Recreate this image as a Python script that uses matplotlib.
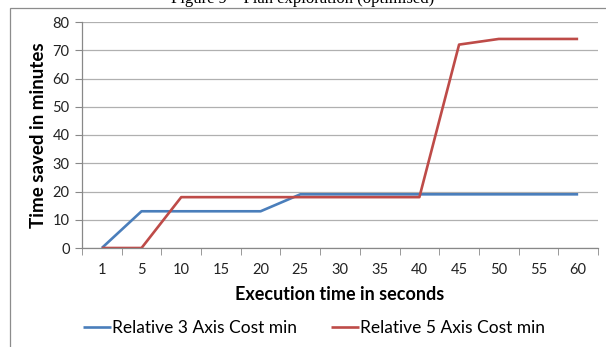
import matplotlib.pyplot as plt
import matplotlib.patches as patches
import numpy as np

# execution time categories (seconds) and time saved (minutes)
exec_times = ["1", "5", "10", "15", "20", "25", "30", "35", "40", "45", "50", "55", "60"]
axis3_cost = [0, 13, 13, 13, 13, 19, 19, 19, 19, 19, 19, 19, 19]
axis5_cost = [0, 0, 18, 18, 18, 18, 18, 18, 18, 72, 74, 74, 74]

plt.rcParams['font.family'] = ['Lato', 'DejaVu Sans']

fig = plt.figure(figsize=(6.06, 3.47), dpi=100)
ax = fig.add_axes([82 / 606, 1 - 248 / 347, (598 - 82) / 606, (248 - 22) / 347])

x = np.arange(len(exec_times))
ax.plot(x, axis3_cost, color="#4a7ebb", lw=1.9, label="Relative 3 Axis Cost min", solid_capstyle="butt")
ax.plot(x, axis5_cost, color="#be4b48", lw=1.9, label="Relative 5 Axis Cost min", solid_capstyle="butt")

ax.set_xlim(-0.5, len(exec_times) - 0.5)
ax.set_ylim(0, 80)
ax.set_yticks(range(0, 81, 10))
ax.set_xticks(x)
ax.set_xticklabels(exec_times)
ax.set_xticks(np.arange(-0.5, len(exec_times)), minor=True)
ax.tick_params(axis="x", which="major", length=0, pad=11, labelsize=10.5, colors="#222222")
ax.tick_params(axis="x", which="minor", length=5, color="#888888", direction="out")
ax.tick_params(axis="y", length=5, color="#888888", pad=4, labelsize=10.5, labelcolor="#222222")

ax.grid(axis="y", color="#b0b0b0", lw=0.9)
ax.set_axisbelow(True)
for side in ["top", "right"]:
    ax.spines[side].set_visible(False)
ax.spines["left"].set_color("#888888")
ax.spines["bottom"].set_color("#888888")
ax.spines["left"].set_linewidth(0.9)
ax.spines["bottom"].set_linewidth(0.9)

ax.set_xlabel("Execution time in seconds", fontsize=13, fontweight="bold", labelpad=6)
ax.set_ylabel("Time saved in minutes", fontsize=13.5, fontweight="bold", labelpad=4)

fig.legend(loc="center", bbox_to_anchor=(0.518, 1 - 328 / 347), ncol=2, frameon=False,
           fontsize=12.5, handlelength=1.6, handletextpad=0.05, columnspacing=2.0)

# outer chart frame, partially cut off
fig.patches.append(patches.Rectangle((10 / 606, -0.1), 1.2, 1 - 8 / 347 + 0.1,
                                     transform=fig.transFigure, fill=False,
                                     edgecolor="#8c8c8c", lw=0.9))

fig.text(0.5, 1 - 3 / 347, "Figure 9 \u2013 Plan exploration (optimised)", ha="center",
         va="baseline", fontsize=12, family=["Liberation Serif", "DejaVu Serif"])

fig.savefig("out.png", dpi=100)
